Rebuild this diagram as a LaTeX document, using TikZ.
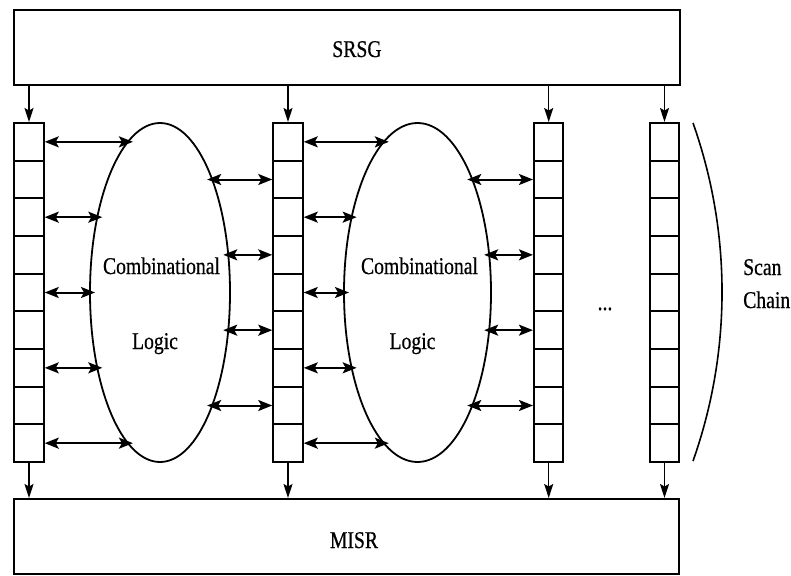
\documentclass[tikz,border=0pt]{standalone}
\usepackage{fontspec}
\setmainfont{Liberation Serif}[FakeStretch=0.82,FakeBold=0.6]
\usetikzlibrary{shapes.geometric,arrows.meta}
\begin{document}
\begin{tikzpicture}[x=1pt,y=-1pt,
  every node/.style={font=\fontsize{24}{28}\selectfont},
  bigbox/.style={draw,line width=2pt,inner sep=0pt},
  cell/.style={draw,line width=2pt,minimum width=29.5pt,minimum height=37.667pt,inner sep=0pt},
  logic/.style={draw,ellipse,line width=1.8pt,inner sep=0pt},
  tip/.tip={Stealth[length=14pt,width=11pt,inset=3pt]},
  dbl/.style={line width=2pt,tip-tip},
  dtip/.tip={Stealth[length=14pt,width=9pt,inset=2.5pt]},
  down/.style={line width=1.4pt,-dtip},
  lbl/.style={anchor=base,inner sep=0pt}]
\useasboundingbox (0,0) rectangle (791,575);

% pattern generator and signature register
\node[bigbox,minimum width=666pt,minimum height=75pt] (srsg) at (347,47.5) {};
\node[lbl] (srsgt) at (357,57) {SRSG};
\node[bigbox,minimum width=665pt,minimum height=75pt] (misr) at (346.5,536.5) {};
\node[lbl] (misrt) at (354,548) {MISR};

% scan chains, nine cells each
\foreach \k/\cx in {1/29,2/288,3/548.7,4/664.5}{
  \foreach \i in {1,...,9}{
    \node[cell] (c\k-\i) at (\cx,{123+37.667*(\i-0.5)}) {};
  }
  \draw[down] (srsg.south -| c\k-1.north) -- (c\k-1.north);
  \draw[down] (c\k-9.south) -- (c\k-9.south |- misr.north);
}

% combinational logic blocks
\node[logic,minimum width=140pt,minimum height=339pt] (ell1) at (160,292.5) {};
\node[logic,minimum width=147pt,minimum height=339pt] (ell2) at (417.5,292.5) {};
\node[lbl] (t1a) at (161.5,274) {Combinational};
\node[lbl] (t1b) at (155,349) {Logic};
\node[lbl] (t2a) at (419.5,274) {Combinational};
\node[lbl] (t2b) at (412.5,349) {Logic};

% links between flip-flops and logic
\foreach \i in {1,3,5,7,9}{
  \pgfmathsetmacro\ddy{123+37.667*(\i-0.5)-292.5}
  \pgfmathsetmacro\ddxa{70*sqrt(1-(\ddy/169.5)^2)-5}
  \pgfmathsetmacro\ddxb{73.5*sqrt(1-(\ddy/169.5)^2)-5}
  \coordinate (ea-\i) at ([xshift=-\ddxa pt]ell1.center |- c1-\i.east);
  \coordinate (eb-\i) at ([xshift=-\ddxb pt]ell2.center |- c2-\i.east);
  \draw[dbl] (c1-\i.east) -- (ea-\i);
  \draw[dbl] (c2-\i.east) -- (eb-\i);
}
\foreach \i in {2,4,6,8}{
  \pgfmathsetmacro\ddy{123+37.667*(\i-0.5)-292.5}
  \pgfmathsetmacro\ddxa{70*sqrt(1-(\ddy/169.5)^2)-5}
  \pgfmathsetmacro\ddxb{73.5*sqrt(1-(\ddy/169.5)^2)-5}
  \coordinate (fa-\i) at ([xshift=\ddxa pt]ell1.center |- c2-\i.west);
  \coordinate (fb-\i) at ([xshift=\ddxb pt]ell2.center |- c3-\i.west);
  \draw[dbl] (fa-\i) -- (c2-\i.west);
  \draw[dbl] (fb-\i) -- (c3-\i.west);
}

\node[lbl] (dots) at (605,310) {...};

% bracket marking the scan chains
\coordinate (brtop) at (693,123);
\coordinate (brbot) at (693,461);
\draw[line width=1.6pt] (brtop) .. controls (731.7,232.4) and (731.7,351.6) .. (brbot);
\node[lbl,anchor=base west] (scan) at (743,275) {Scan};
\node[lbl,anchor=base west] (chain) at (743,308) {Chain};
\end{tikzpicture}
\end{document}
